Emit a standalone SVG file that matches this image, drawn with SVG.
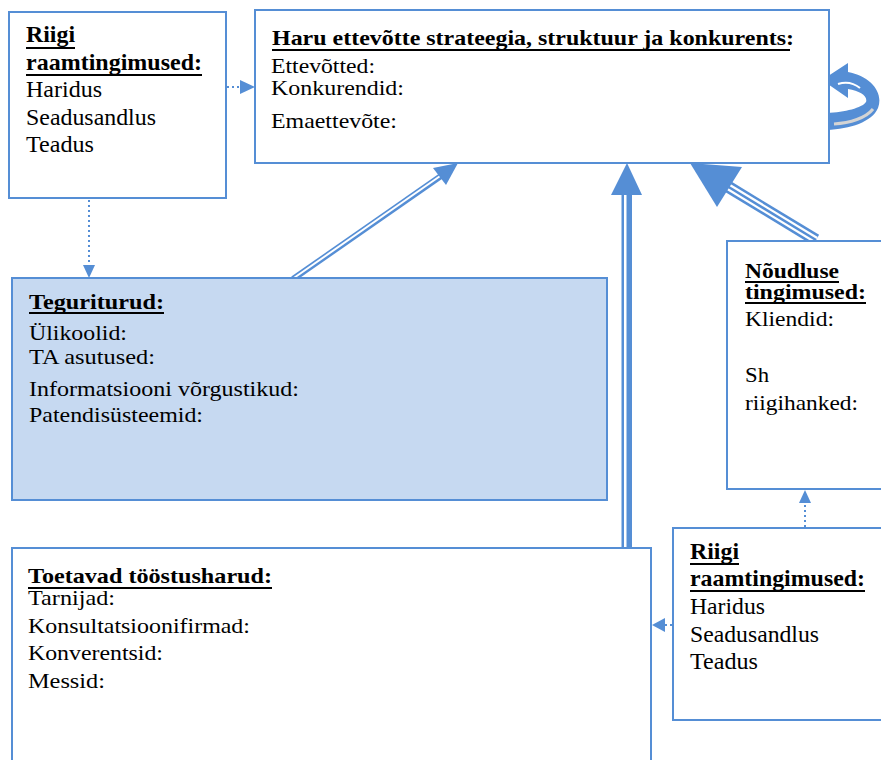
<svg xmlns="http://www.w3.org/2000/svg" width="881" height="760" viewBox="0 0 881 760">
  <style>
    .box { fill: #ffffff; stroke: #558ed5; stroke-width: 2; }
    .shaded { fill: #c6d9f1; }
    .b { font-weight: bold; }
    .ul { stroke: #000; stroke-width: 2; }
    .dot { stroke: #558ed5; stroke-width: 2; stroke-dasharray: 2 3; fill: none; }
    .head { fill: #558ed5; }
  </style>

  <!-- connectors -->
  <g id="connectors">
    <!-- dotted: top-left framework -> strategy box -->
    <line class="dot" x1="227" y1="87" x2="240" y2="87"/>
    <polygon class="head" points="240,80 255,87 240,94"/>
    <!-- dotted: top-left framework -> factor markets -->
    <line class="dot" x1="89" y1="200" x2="89" y2="265"/>
    <polygon class="head" points="83,265 89,278 95,265"/>
    <!-- dotted: right framework -> demand conditions -->
    <line class="dot" x1="805" y1="527" x2="805" y2="503"/>
    <polygon class="head" points="799,503 805,490 811,503"/>
    <!-- dotted: right framework -> supporting industries -->
    <line class="dot" x1="672" y1="625" x2="665" y2="625"/>
    <polygon class="head" points="665,618 652,625 665,632"/>

    <!-- double-line arrow: factor markets -> strategy -->
    <line x1="293" y1="279" x2="441" y2="176" stroke="#558ed5" stroke-width="6"/>
    <line x1="291" y1="280" x2="443" y2="174" stroke="#ffffff" stroke-width="2"/>
    <polygon class="head" points="458,163 433,168 446,185"/>

    <!-- double-line arrow: supporting industries -> strategy -->
    <rect x="621.5" y="193" width="10.5" height="354" fill="#558ed5"/>
    <rect x="624" y="193" width="2.5" height="354" fill="#ffffff"/>
    <polygon class="head" points="627,163 611,195 642,195"/>

    <!-- triple-line arrow: demand conditions -> strategy -->
    <line x1="727" y1="186" x2="816" y2="240" stroke="#558ed5" stroke-width="12"/>
    <line x1="727" y1="186" x2="816" y2="240" stroke="#ffffff" stroke-width="7"/>
    <line x1="727" y1="186" x2="816" y2="240" stroke="#558ed5" stroke-width="2.5"/>
    <polygon class="head" points="690,163 742,167 717,207"/>

    <!-- circular arrow: rivalry within the strategy box -->
    <path class="head" d="M 827,130 C 850,129 872,122 878,108 C 884,92 870,76 848,72 L 848,63 L 822,80 L 848,98 L 848,89 C 860,91 868,96 866,102 C 862,108 845,112 827,113 Z"/>
    <path d="M 834,124 C 850,123 866,118 873,109" stroke="#d4d4d4" stroke-width="3" fill="none"/>
    <path d="M 838,84 Q 850,80 860,88" stroke="#ffffff" stroke-width="2" fill="none"/>
  </g>

  <g font-family="'Liberation Serif', Tinos, 'Times New Roman', 'DejaVu Serif', serif" fill="#000">
  <!-- top-left framework conditions -->
  <g id="riigi-top">
    <rect class="box" x="9" y="12" width="217" height="186"/>
    <text class="b" x="26" y="42" font-size="23" textLength="49" lengthAdjust="spacingAndGlyphs">Riigi</text>
    <line class="ul" x1="26" y1="48" x2="75" y2="48"/>
    <text class="b" x="26" y="70" font-size="23" textLength="176" lengthAdjust="spacingAndGlyphs">raamtingimused:</text>
    <line class="ul" x1="26" y1="75" x2="202" y2="75"/>
    <text x="26" y="97" font-size="23" textLength="76" lengthAdjust="spacingAndGlyphs">Haridus</text>
    <text x="26" y="125" font-size="23" textLength="130" lengthAdjust="spacingAndGlyphs">Seadusandlus</text>
    <text x="26" y="152" font-size="23" textLength="68" lengthAdjust="spacingAndGlyphs">Teadus</text>
  </g>

  <!-- strategy, structure and rivalry -->
  <g id="haru">
    <rect class="box" x="255" y="10" width="574" height="153"/>
    <text class="b" x="272" y="45" font-size="21" textLength="522" lengthAdjust="spacingAndGlyphs">Haru ettevõtte strateegia, struktuur ja konkurents:</text>
    <line class="ul" x1="272" y1="50" x2="790" y2="50"/>
    <text x="271" y="73" font-size="21" textLength="104" lengthAdjust="spacingAndGlyphs">Ettevõtted:</text>
    <text x="271" y="95" font-size="21" textLength="133" lengthAdjust="spacingAndGlyphs">Konkurendid:</text>
    <text x="271" y="128" font-size="21" textLength="126" lengthAdjust="spacingAndGlyphs">Emaettevõte:</text>
  </g>

  <!-- factor markets -->
  <g id="teguriturud">
    <rect class="box shaded" x="12" y="278" width="595" height="222"/>
    <text class="b" x="29" y="309" font-size="21" textLength="135" lengthAdjust="spacingAndGlyphs">Teguriturud:</text>
    <line class="ul" x1="29" y1="313" x2="164" y2="313"/>
    <text x="29" y="340" font-size="21" textLength="98" lengthAdjust="spacingAndGlyphs">Ülikoolid:</text>
    <text x="29" y="364" font-size="21" textLength="126" lengthAdjust="spacingAndGlyphs">TA asutused:</text>
    <text x="29" y="396" font-size="21" textLength="270" lengthAdjust="spacingAndGlyphs">Informatsiooni võrgustikud:</text>
    <text x="29" y="422" font-size="21" textLength="174" lengthAdjust="spacingAndGlyphs">Patendisüsteemid:</text>
  </g>

  <!-- demand conditions -->
  <g id="noudlus">
    <rect class="box" x="727" y="241" width="170" height="248"/>
    <text class="b" x="745" y="278" font-size="20" textLength="94" lengthAdjust="spacingAndGlyphs">Nõudluse</text>
    <line class="ul" x1="745" y1="282" x2="839" y2="282"/>
    <text class="b" x="745" y="299" font-size="20" textLength="121" lengthAdjust="spacingAndGlyphs">tingimused:</text>
    <line class="ul" x1="745" y1="303" x2="866" y2="303"/>
    <text x="745" y="326" font-size="22" textLength="89" lengthAdjust="spacingAndGlyphs">Kliendid:</text>
    <text x="745" y="382" font-size="22" textLength="24" lengthAdjust="spacingAndGlyphs">Sh</text>
    <text x="745" y="410" font-size="22" textLength="113" lengthAdjust="spacingAndGlyphs">riigihanked:</text>
  </g>

  <!-- supporting industries -->
  <g id="toetavad">
    <rect class="box" x="12" y="548" width="639" height="225"/>
    <text class="b" x="28" y="583" font-size="21" textLength="244" lengthAdjust="spacingAndGlyphs">Toetavad tööstusharud:</text>
    <line class="ul" x1="28" y1="588" x2="272" y2="588"/>
    <text x="28" y="605" font-size="21" textLength="87" lengthAdjust="spacingAndGlyphs">Tarnijad:</text>
    <text x="28" y="633" font-size="21" textLength="222" lengthAdjust="spacingAndGlyphs">Konsultatsioonifirmad:</text>
    <text x="28" y="660" font-size="21" textLength="135" lengthAdjust="spacingAndGlyphs">Konverentsid:</text>
    <text x="28" y="688" font-size="21" textLength="77" lengthAdjust="spacingAndGlyphs">Messid:</text>
  </g>

  <!-- right framework conditions -->
  <g id="riigi-right">
    <rect class="box" x="673" y="528" width="220" height="192"/>
    <text class="b" x="690" y="559" font-size="23" textLength="49" lengthAdjust="spacingAndGlyphs">Riigi</text>
    <line class="ul" x1="690" y1="564" x2="739" y2="564"/>
    <text class="b" x="690" y="586" font-size="23" textLength="175" lengthAdjust="spacingAndGlyphs">raamtingimused:</text>
    <line class="ul" x1="690" y1="591" x2="865" y2="591"/>
    <text x="690" y="614" font-size="23" textLength="75" lengthAdjust="spacingAndGlyphs">Haridus</text>
    <text x="690" y="642" font-size="23" textLength="129" lengthAdjust="spacingAndGlyphs">Seadusandlus</text>
    <text x="690" y="669" font-size="23" textLength="68" lengthAdjust="spacingAndGlyphs">Teadus</text>
  </g>
  </g>
</svg>
